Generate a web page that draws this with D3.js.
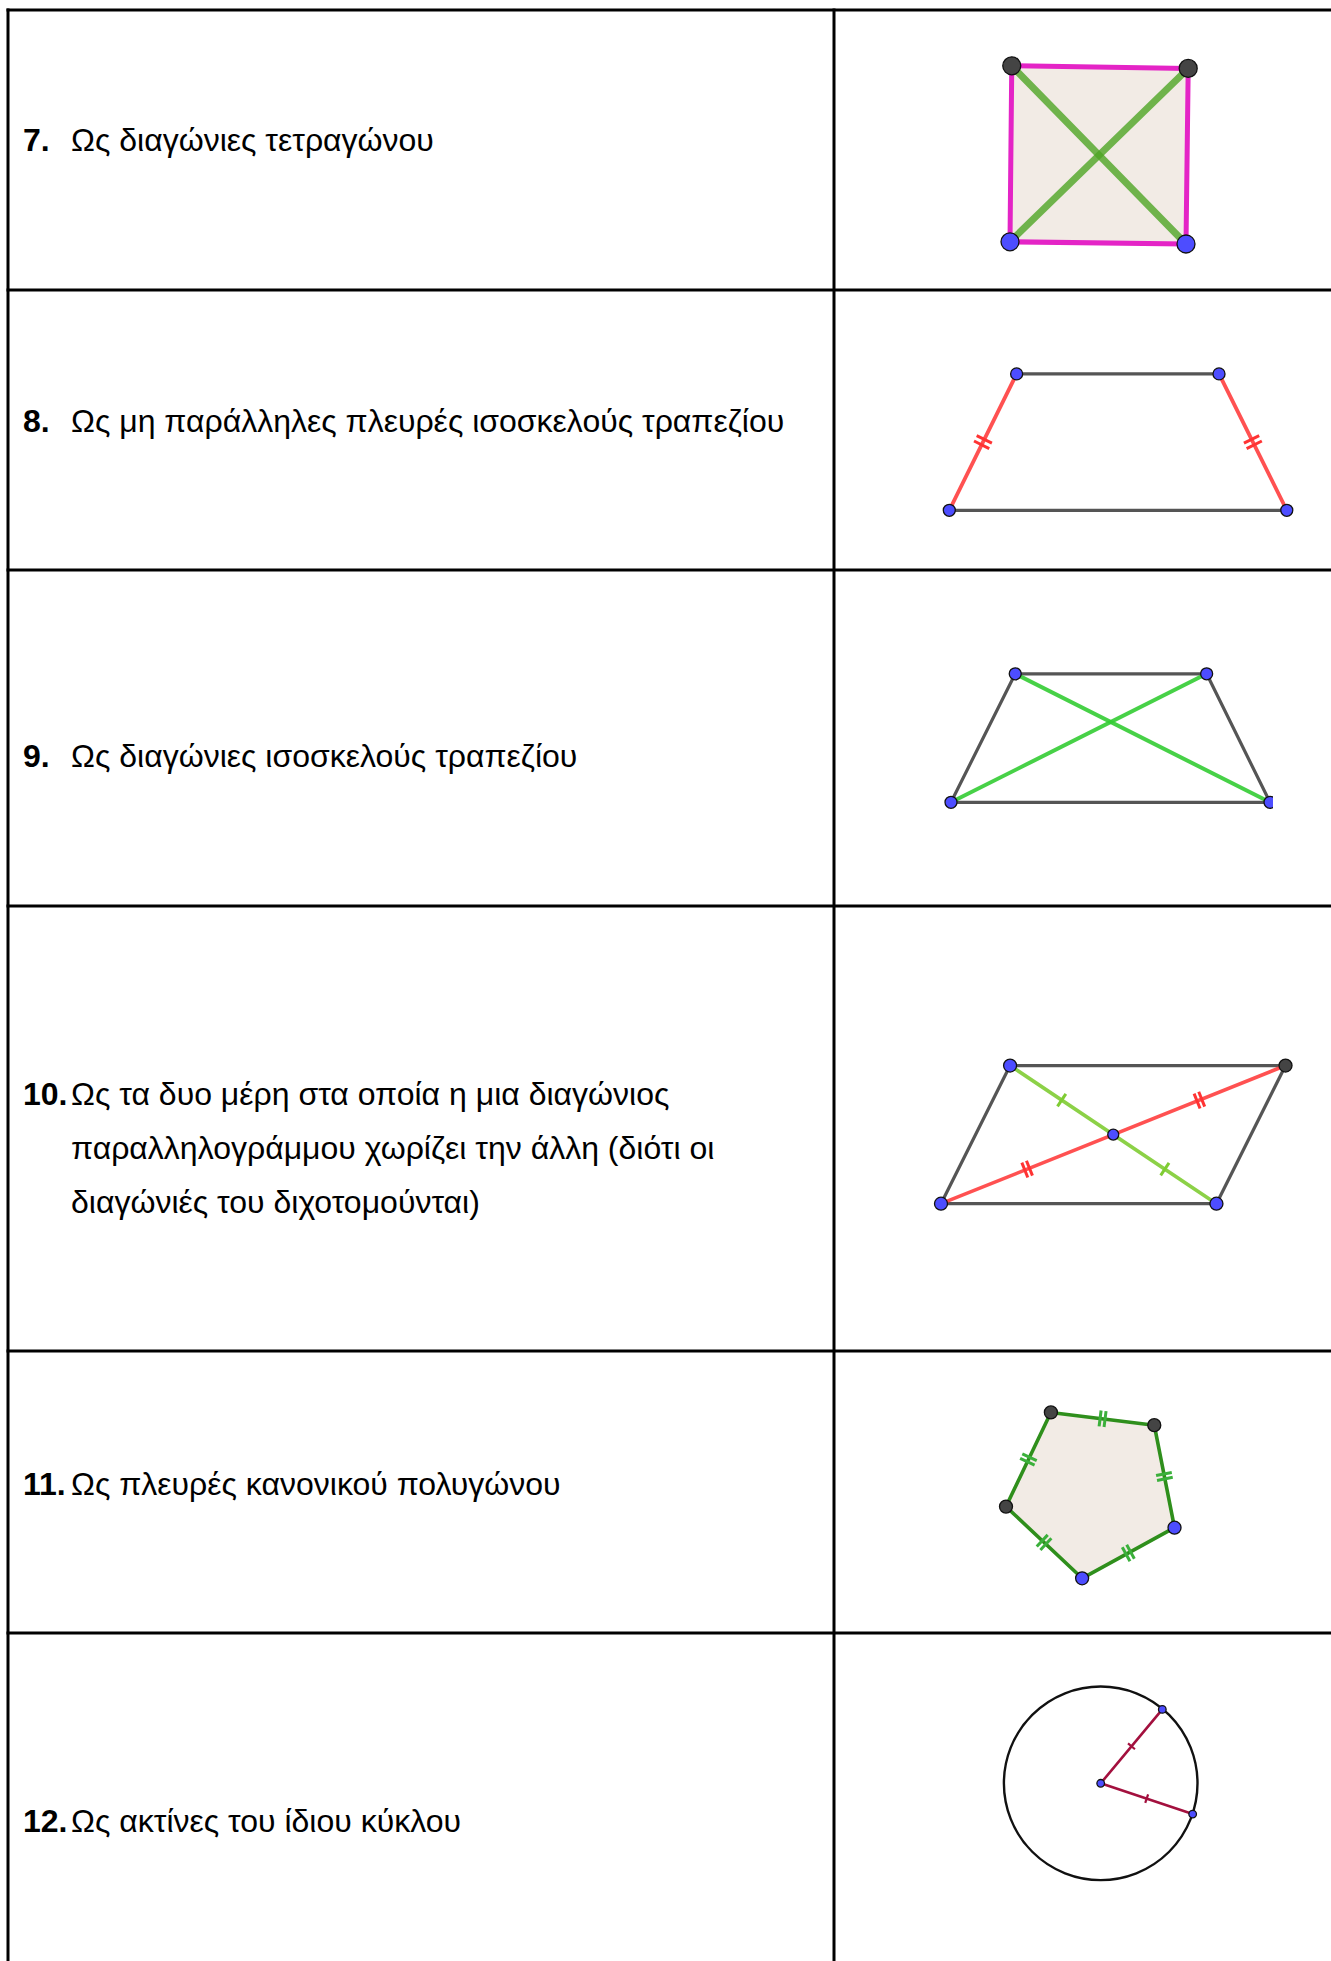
<!DOCTYPE html>
<html>
<head>
<meta charset="utf-8">
<script src="https://cdn.jsdelivr.net/npm/d3@7"></script>
<style>
  body { margin: 0; background: #fff; }
  svg { display: block; }
  text { font-family: "Liberation Sans", Arial, sans-serif; fill: #000; }
</style>
</head>
<body>
<div id="sheet"></div>
<script>
// ---- data ----
var rowNumbers = ["7.", "8.", "9.", "10.", "11.", "12."];
var rowTexts = [
  ["Ως διαγώνιες τετραγώνου"],
  ["Ως μη παράλληλες πλευρές ισοσκελούς τραπεζίου"],
  ["Ως διαγώνιες ισοσκελούς τραπεζίου"],
  ["Ως τα δυο μέρη στα οποία η μια διαγώνιος",
   "παραλληλογράμμου χωρίζει την άλλη (διότι οι",
   "διαγώνιές του διχοτομούνται)"],
  ["Ως πλευρές κανονικού πολυγώνου"],
  ["Ως ακτίνες του ίδιου κύκλου"]
];

// figure vertices, in drawing units (y up)
var squarePts = [[0, 0.05], [4, 0], [4.05, 3.99], [0.04, 4.05]];
var squareKinds = ["free", "free", "dep", "dep"];
var trapPts = [[0, 0], [7.67, 0], [6.13, 3.10], [1.53, 3.10]];
var trapDiagPts = [[0, 0], [7.25, 0], [5.81, 2.92], [1.46, 2.92]];
var paraPts = [[0, 0], [6.26, 0], [7.83, 3.14], [1.57, 3.14]];
var paraKinds = ["free", "free", "dep", "free"];
var pentaPts = [[0, 1.63], [1.02, 3.77], [3.37, 3.48], [3.83, 1.15], [1.73, 0]];
var pentaKinds = ["dep", "dep", "dep", "free", "free"];
var circleRadius = 2.2;
var radiusPts = [[1.40, 1.68], [2.09, -0.70]];

// ---- layout ----
var W = 1331, H = 1961;
var U = 44;               // px per drawing unit
var colX = [8, 834];
var rowLines = [10, 290, 570, 906, 1351, 1633];
var textBase = [151, 432, 767, 1105, 1495, 1832];
var lineGap = 54;
var fontSize = 32;

var svg = d3.select("#sheet").append("svg")
  .attr("width", W)
  .attr("height", H);

// grid lines
var grid = svg.append("g").attr("stroke", "#000").attr("stroke-width", 3);
grid.selectAll(".hline")
  .data(rowLines)
  .enter().append("line")
  .attr("x1", colX[0] - 1.5).attr("x2", W)
  .attr("y1", function(d) { return d; })
  .attr("y2", function(d) { return d; });
grid.selectAll(".vline")
  .data(colX)
  .enter().append("line")
  .attr("x1", function(d) { return d; })
  .attr("x2", function(d) { return d; })
  .attr("y1", rowLines[0] - 1.5).attr("y2", H);

// text column
var rows = svg.selectAll(".row")
  .data(rowNumbers)
  .enter().append("g")
  .attr("class", "row");

rows.append("text")
  .attr("x", 23)
  .attr("y", function(d, i) { return textBase[i]; })
  .attr("font-size", fontSize)
  .attr("font-weight", "bold")
  .text(function(d) { return d; });

rows.each(function(d, i) {
  d3.select(this).selectAll(".ln")
    .data(rowTexts[i])
    .enter().append("text")
    .attr("x", 71)
    .attr("y", function(t, j) { return textBase[i] + j * lineGap; })
    .attr("font-size", fontSize)
    .text(function(t) { return t; });
});

// ---- drawing helpers ----
function scales(ox, oy) {
  return {
    x: d3.scaleLinear().domain([0, 1]).range([ox, ox + U]),
    y: d3.scaleLinear().domain([0, 1]).range([oy, oy - U])
  };
}

function seg(g, s, p, q, color, w, op) {
  g.append("line")
    .attr("x1", s.x(p[0])).attr("y1", s.y(p[1]))
    .attr("x2", s.x(q[0])).attr("y2", s.y(q[1]))
    .attr("stroke", color)
    .attr("stroke-width", w)
    .attr("stroke-opacity", op == null ? 1 : op)
    .attr("stroke-linecap", "round");
}

// tick marks at fraction t of segment p-q
function ticks(g, s, p, q, n, len, gap, color, w, t) {
  var x1 = s.x(p[0]), y1 = s.y(p[1]), x2 = s.x(q[0]), y2 = s.y(q[1]);
  var dx = x2 - x1, dy = y2 - y1, L = Math.sqrt(dx * dx + dy * dy);
  var ux = dx / L, uy = dy / L, nx = -uy, ny = ux;
  var mx = x1 + dx * t, my = y1 + dy * t;
  for (var k = 0; k < n; k++) {
    var off = (k - (n - 1) / 2) * gap;
    var cx = mx + ux * off, cy = my + uy * off;
    g.append("line")
      .attr("x1", cx - nx * len / 2).attr("y1", cy - ny * len / 2)
      .attr("x2", cx + nx * len / 2).attr("y2", cy + ny * len / 2)
      .attr("stroke", color).attr("stroke-width", w);
  }
}

function dots(g, s, pts, kinds, r) {
  g.selectAll(".pt")
    .data(pts)
    .enter().append("circle")
    .attr("cx", function(d) { return s.x(d[0]); })
    .attr("cy", function(d) { return s.y(d[1]); })
    .attr("r", r)
    .attr("fill", function(d, i) { return kinds[i] == "dep" ? "#444444" : "#4d4dff"; })
    .attr("stroke", "#111")
    .attr("stroke-width", 1.3);
}

function polyPath(s, pts) {
  return d3.line().x(function(d) { return s.x(d[0]); }).y(function(d) { return s.y(d[1]); })(pts) + "Z";
}

function edges(g, s, pts, color, w, op) {
  for (var i = 0; i < pts.length; i++) {
    seg(g, s, pts[i], pts[(i + 1) % pts.length], color, w, op);
  }
}

// ---- 7. square with diagonals ----
(function() {
  var s = scales(1010, 244), g = svg.append("g");
  g.append("path").attr("d", polyPath(s, squarePts)).attr("fill", "#f2ebe5");
  edges(g, s, squarePts, "#e424c6", 5, 1);
  seg(g, s, squarePts[0], squarePts[2], "#4ea524", 7, 0.8);
  seg(g, s, squarePts[1], squarePts[3], "#4ea524", 7, 0.8);
  dots(g, s, squarePts, squareKinds, 9);
})();

// ---- 8. isosceles trapezoid, equal legs ----
(function() {
  var s = scales(949.3, 510.3), g = svg.append("g"), P = trapPts;
  seg(g, s, P[0], P[1], "#555", 3.2, 1);
  seg(g, s, P[3], P[2], "#555", 3.2, 1);
  seg(g, s, P[0], P[3], "#ff3333", 3.8, 0.85);
  seg(g, s, P[1], P[2], "#ff3333", 3.8, 0.85);
  ticks(g, s, P[0], P[3], 2, 17, 6, "#ff3333", 3, 0.5);
  ticks(g, s, P[1], P[2], 2, 17, 6, "#ff3333", 3, 0.5);
  dots(g, s, P, ["free", "free", "free", "free"], 6);
})();

// ---- 9. isosceles trapezoid, diagonals ----
(function() {
  var s = scales(951, 802.3), g = svg.append("g"), P = trapDiagPts;
  svg.append("clipPath").attr("id", "clip9")
    .append("rect").attr("x", 900).attr("y", 640).attr("width", 373).attr("height", 200);
  g.attr("clip-path", "url(#clip9)");
  edges(g, s, P, "#555", 3.2, 1);
  seg(g, s, P[0], P[2], "#33cc33", 4, 0.9);
  seg(g, s, P[1], P[3], "#33cc33", 4, 0.9);
  dots(g, s, P, ["free", "free", "free", "free"], 6);
})();

// ---- 10. parallelogram, diagonals bisect ----
(function() {
  var s = scales(941, 1203.7), g = svg.append("g"), P = paraPts;
  var M = [(P[0][0] + P[2][0]) / 2, (P[0][1] + P[2][1]) / 2];
  edges(g, s, P, "#555", 3.2, 1);
  seg(g, s, P[3], P[1], "#7fcc33", 3.6, 0.9);
  seg(g, s, P[0], P[2], "#ff3333", 3.6, 0.85);
  ticks(g, s, P[3], M, 1, 15, 0, "#7fcc33", 3, 0.5);
  ticks(g, s, M, P[1], 1, 15, 0, "#7fcc33", 3, 0.5);
  ticks(g, s, P[0], M, 2, 16, 5, "#ff3333", 3, 0.5);
  ticks(g, s, M, P[2], 2, 16, 5, "#ff3333", 3, 0.5);
  dots(g, s, P, paraKinds, 6.5);
  dots(g, s, [M], ["free"], 5.5);
})();

// ---- 11. regular pentagon ----
(function() {
  var s = scales(1006, 1578.3), g = svg.append("g"), P = pentaPts;
  g.append("path").attr("d", polyPath(s, P)).attr("fill", "#f2ebe5");
  edges(g, s, P, "#2f8f1c", 3.6, 1);
  for (var i = 0; i < P.length; i++) {
    ticks(g, s, P[i], P[(i + 1) % P.length], 2, 16, 5, "#3bb03b", 3, 0.5);
  }
  dots(g, s, P, pentaKinds, 6.5);
})();

// ---- 12. radii of a circle ----
(function() {
  var s = scales(1100.7, 1783.3), g = svg.append("g");
  var O = [0, 0];
  g.append("circle")
    .attr("cx", s.x(0)).attr("cy", s.y(0))
    .attr("r", s.x(circleRadius) - s.x(0))
    .attr("fill", "none").attr("stroke", "#111").attr("stroke-width", 2.4);
  radiusPts.forEach(function(p) {
    seg(g, s, O, p, "#a3103e", 2.6, 1);
    ticks(g, s, O, p, 1, 9, 0, "#a3103e", 2.2, 0.5);
  });
  dots(g, s, [O].concat(radiusPts), ["free", "free", "free"], 3.8);
})();
</script>
</body>
</html>
